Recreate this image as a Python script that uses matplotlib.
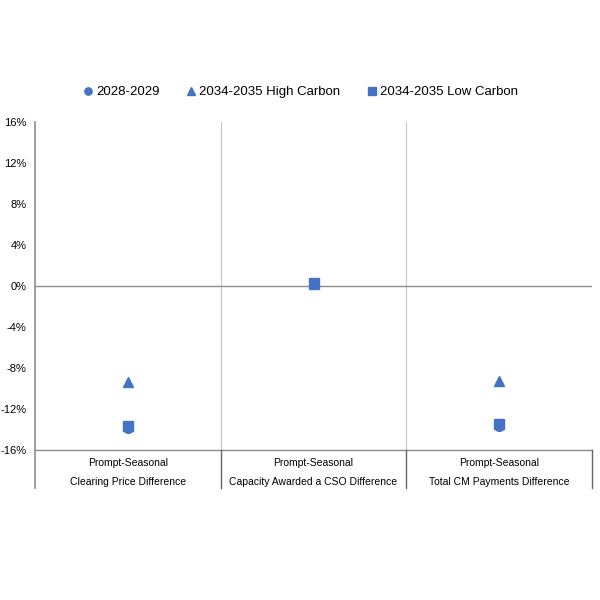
import matplotlib.pyplot as plt

plt.rcParams['font.family'] = ['Liberation Sans', 'DejaVu Sans']

categories = ["Prompt-Seasonal\nClearing Price Difference",
              "Prompt-Seasonal\nCapacity Awarded a CSO Difference",
              "Prompt-Seasonal\nTotal CM Payments Difference"]
vals_2028 = [-13.9, 0.2, -13.7]
vals_high = [-9.4, 0.2, -9.3]
vals_low = [-13.7, 0.3, -13.5]
yticks = [-16, -12, -8, -4, 0, 4, 8, 12, 16]

blue = '#4472C4'
gray = '#8c8c8c'

fig = plt.figure(figsize=(6, 6), dpi=100)
ax = fig.add_axes([35 / 600, 0.25, (592 - 35) / 600, 328 / 600])

xs = [0.5, 1.5, 2.5]
ax.plot(xs, vals_2028, 'o', color=blue, markersize=7, label='2028-2029', zorder=3)
ax.plot(xs, vals_high, '^', color=blue, markersize=7, label='2034-2035 High Carbon', zorder=3)
ax.plot(xs, vals_low, 's', color=blue, markersize=7, label='2034-2035 Low Carbon', zorder=4)

ax.set_xlim(0, 3)
ax.set_ylim(-16, 16)
ax.set_yticks(yticks)
ax.set_yticklabels([f"{t}%" for t in yticks])
ax.tick_params(axis='y', length=0, pad=6, labelsize=8)
ax.set_xticks([])

for s in ['top', 'right', 'left', 'bottom']:
    ax.spines[s].set_visible(False)

# light gridlines between categories
for x in [1, 2]:
    ax.axvline(x, color='#c8c8c8', lw=0.8, zorder=1)
ax.axhline(0, color=gray, lw=1, zorder=2)
ax.axhline(-16, color=gray, lw=1, zorder=2, clip_on=False)

# left axis line and category separators below the plot
ax.plot([0, 0], [-0.116, 1], transform=ax.transAxes, color=gray, lw=1.2, clip_on=False)
for x in [1, 2, 3]:
    ax.plot([x / 3, x / 3], [-0.116, 0], transform=ax.transAxes, color='#666666', lw=1, clip_on=False)

for x, lab in zip(xs, categories):
    top, bottom = lab.split("\n")
    ax.text(x, -0.04, top, transform=ax.get_xaxis_transform(), ha='center', va='center', fontsize=7.5)
    ax.text(x, -0.098, bottom, transform=ax.get_xaxis_transform(), ha='center', va='center', fontsize=7.5)

fig.legend(loc='center', bbox_to_anchor=(0.5, 1 - 92 / 600), ncol=3, frameon=False,
           fontsize=9.5, handletextpad=0.2, columnspacing=1.9, markerscale=0.75, handlelength=0.9)

fig.savefig('out.png', dpi=100)
